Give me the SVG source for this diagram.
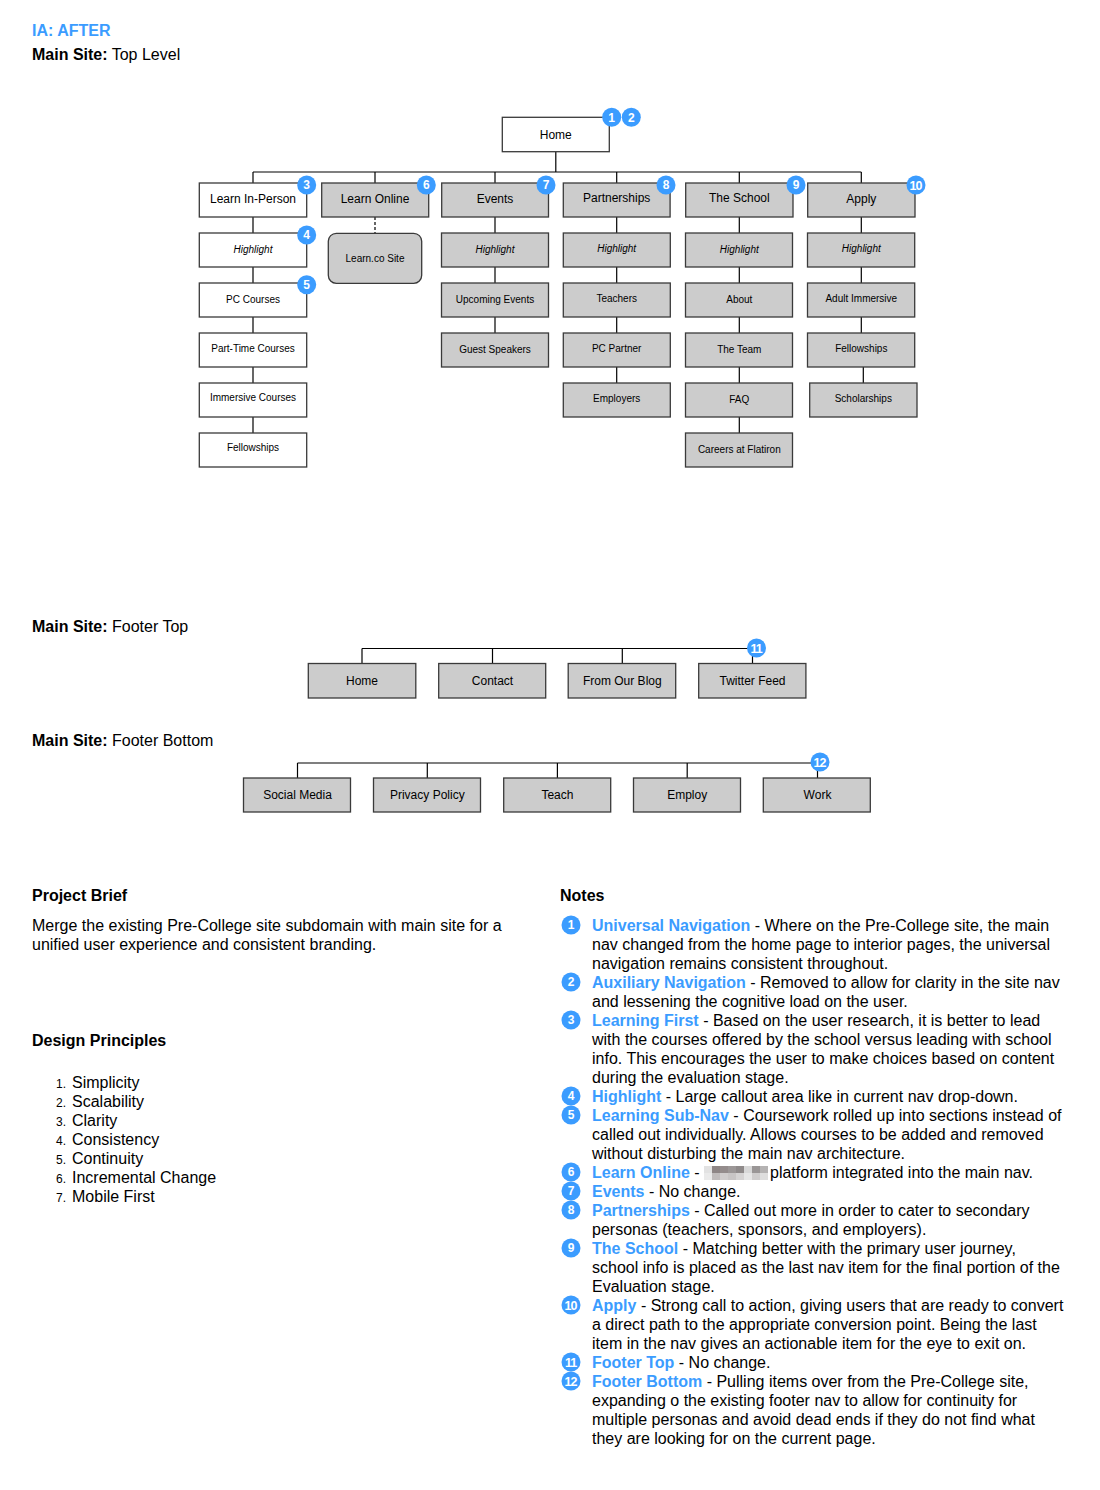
<svg xmlns="http://www.w3.org/2000/svg" width="1100" height="1490" viewBox="0 0 1100 1490">
<style>
text{font-family:"Liberation Sans",Arial,Helvetica,sans-serif;fill:#000}
.box{stroke:#3a3a3a;stroke-width:1.3}
.g{fill:#cccccc}
.w{fill:#ffffff}
.t1{font-size:12px;text-anchor:middle}
.t2{font-size:10px;text-anchor:middle}
.hi{font-size:10px;font-style:italic;text-anchor:middle}
.conn{stroke:#000;stroke-width:1.2;fill:none}
.dash{stroke-dasharray:3 2}
.badge{fill:#3b9cff}
.bt{fill:#fff;font-size:12px;font-weight:bold;text-anchor:middle}
.bt2{fill:#fff;font-size:12.5px;font-weight:bold;text-anchor:middle;letter-spacing:-1px}
.h{font-size:16px}
.b{font-weight:bold}
.blue{fill:#3b9cff;font-weight:bold}
.body{font-size:16px}
.num{font-size:12px}
</style>
<rect width="1100" height="1490" fill="#fff"/>

<!-- Headings -->
<text x="32" y="36" class="h blue">IA: AFTER</text>
<text x="32" y="60" class="h"><tspan class="b">Main Site:</tspan> Top Level</text>
<text x="32" y="632" class="h"><tspan class="b">Main Site:</tspan> Footer Top</text>
<text x="32" y="746" class="h"><tspan class="b">Main Site:</tspan> Footer Bottom</text>

<!-- Connectors -->
<g id="connectors" class="conn">
  <line x1="555.8" y1="151.7" x2="555.8" y2="172"/>
  <line x1="253" y1="172" x2="861.3" y2="172"/>
  <line x1="253" y1="172" x2="253" y2="183"/>
  <line x1="375" y1="172" x2="375" y2="183"/>
  <line x1="495" y1="172" x2="495" y2="183"/>
  <line x1="616.7" y1="172" x2="616.7" y2="183"/>
  <line x1="739.3" y1="172" x2="739.3" y2="183"/>
  <line x1="861.3" y1="172" x2="861.3" y2="183"/>
  <!-- Learn In-Person -->
  <line x1="253" y1="217" x2="253" y2="233"/>
  <line x1="253" y1="267" x2="253" y2="283"/>
  <line x1="253" y1="317" x2="253" y2="333"/>
  <line x1="253" y1="367" x2="253" y2="383"/>
  <line x1="253" y1="417" x2="253" y2="433"/>
  <!-- Learn Online -->
  <line class="dash" x1="375" y1="217" x2="375" y2="233"/>
  <!-- Events -->
  <line x1="495" y1="217" x2="495" y2="233"/>
  <line x1="495" y1="267" x2="495" y2="283"/>
  <line x1="495" y1="317" x2="495" y2="333"/>
  <!-- Partnerships -->
  <line x1="616.7" y1="217" x2="616.7" y2="233"/>
  <line x1="616.7" y1="267" x2="616.7" y2="283"/>
  <line x1="616.7" y1="317" x2="616.7" y2="333"/>
  <line x1="616.7" y1="367" x2="616.7" y2="383"/>
  <!-- The School -->
  <line x1="739.3" y1="217" x2="739.3" y2="233"/>
  <line x1="739.3" y1="267" x2="739.3" y2="283"/>
  <line x1="739.3" y1="317" x2="739.3" y2="333"/>
  <line x1="739.3" y1="367" x2="739.3" y2="383"/>
  <line x1="739.3" y1="417" x2="739.3" y2="433"/>
  <!-- Apply -->
  <line x1="861.3" y1="217" x2="861.3" y2="233"/>
  <line x1="861.3" y1="267" x2="861.3" y2="283"/>
  <line x1="861.3" y1="317" x2="861.3" y2="333"/>
  <line x1="863.3" y1="367" x2="863.3" y2="383"/>
  <!-- Footer top -->
  <line x1="362" y1="648.5" x2="752.5" y2="648.5"/>
  <line x1="362" y1="648.5" x2="362" y2="663.5"/>
  <line x1="492.5" y1="648.5" x2="492.5" y2="663.5"/>
  <line x1="622.3" y1="648.5" x2="622.3" y2="663.5"/>
  <line x1="752.5" y1="648.5" x2="752.5" y2="663.5"/>
  <!-- Footer bottom -->
  <line x1="297.5" y1="763" x2="817.5" y2="763"/>
  <line x1="297.5" y1="763" x2="297.5" y2="778"/>
  <line x1="427.3" y1="763" x2="427.3" y2="778"/>
  <line x1="557.4" y1="763" x2="557.4" y2="778"/>
  <line x1="687.2" y1="763" x2="687.2" y2="778"/>
  <line x1="817.5" y1="763" x2="817.5" y2="778"/>
</g>

<!-- Top level nodes -->
<g id="n-home"><rect class="box w" x="502.3" y="117.3" width="107" height="34.4"/><text class="t1" x="555.8" y="138.5">Home</text></g>

<g id="n-learn-in-person"><rect class="box w" x="199.3" y="183" width="107.4" height="34"/><text class="t1" x="253" y="203">Learn In-Person</text></g>
<g id="n-lip-highlight"><rect class="box w" x="199.3" y="233" width="107.4" height="34"/><text class="hi" x="253" y="253">Highlight</text></g>
<g id="n-pc-courses"><rect class="box w" x="199.3" y="283" width="107.4" height="34"/><text class="t2" x="253" y="302.5">PC Courses</text></g>
<g id="n-part-time"><rect class="box w" x="199.3" y="333" width="107.4" height="34"/><text class="t2" x="253" y="352">Part-Time Courses</text></g>
<g id="n-immersive"><rect class="box w" x="199.3" y="383" width="107.4" height="34"/><text class="t2" x="253" y="401">Immersive Courses</text></g>
<g id="n-lip-fellowships"><rect class="box w" x="199.3" y="433" width="107.4" height="34"/><text class="t2" x="253" y="451">Fellowships</text></g>

<g id="n-learn-online"><rect class="box g" x="321.7" y="183" width="107" height="34"/><text class="t1" x="375" y="203">Learn Online</text></g>
<g id="n-learnco"><rect class="box g" x="328.3" y="233.3" width="93.4" height="50" rx="8"/><text class="t2" x="375" y="262">Learn.co Site</text></g>

<g id="n-events"><rect class="box g" x="441.7" y="183" width="106.8" height="34"/><text class="t1" x="495" y="203">Events</text></g>
<g id="n-ev-highlight"><rect class="box g" x="441.5" y="233" width="107" height="34"/><text class="hi" x="495" y="253">Highlight</text></g>
<g id="n-upcoming"><rect class="box g" x="441.5" y="283" width="107" height="34"/><text class="t2" x="495" y="302.5">Upcoming Events</text></g>
<g id="n-guest"><rect class="box g" x="441.5" y="333" width="107" height="34"/><text class="t2" x="495" y="352.5">Guest Speakers</text></g>

<g id="n-partnerships"><rect class="box g" x="563.3" y="183" width="106.8" height="34"/><text class="t1" x="616.7" y="202">Partnerships</text></g>
<g id="n-pa-highlight"><rect class="box g" x="563.3" y="233" width="107" height="34"/><text class="hi" x="616.7" y="252">Highlight</text></g>
<g id="n-teachers"><rect class="box g" x="563.3" y="283" width="107" height="34"/><text class="t2" x="616.7" y="302">Teachers</text></g>
<g id="n-pc-partner"><rect class="box g" x="563.3" y="333" width="107" height="34"/><text class="t2" x="616.7" y="352">PC Partner</text></g>
<g id="n-employers"><rect class="box g" x="563.3" y="383" width="107" height="34"/><text class="t2" x="616.7" y="402">Employers</text></g>

<g id="n-school"><rect class="box g" x="685.7" y="183" width="107.3" height="34"/><text class="t1" x="739.3" y="202">The School</text></g>
<g id="n-sc-highlight"><rect class="box g" x="685.5" y="233" width="107" height="34"/><text class="hi" x="739.3" y="253">Highlight</text></g>
<g id="n-about"><rect class="box g" x="685.5" y="283" width="107" height="34"/><text class="t2" x="739.3" y="303">About</text></g>
<g id="n-team"><rect class="box g" x="685.5" y="333" width="107" height="34"/><text class="t2" x="739.3" y="353">The Team</text></g>
<g id="n-faq"><rect class="box g" x="685.5" y="383" width="107" height="34"/><text class="t2" x="739.3" y="403">FAQ</text></g>
<g id="n-careers"><rect class="box g" x="685.5" y="433" width="107" height="34"/><text class="t2" x="739.3" y="453">Careers at Flatiron</text></g>

<g id="n-apply"><rect class="box g" x="807.7" y="183" width="107.3" height="34"/><text class="t1" x="861.3" y="202.5">Apply</text></g>
<g id="n-ap-highlight"><rect class="box g" x="807.5" y="233" width="107.2" height="34"/><text class="hi" x="861.3" y="252">Highlight</text></g>
<g id="n-adult"><rect class="box g" x="807.5" y="283" width="107.2" height="34"/><text class="t2" x="861.3" y="302">Adult Immersive</text></g>
<g id="n-ap-fellowships"><rect class="box g" x="807.5" y="333" width="107.2" height="34"/><text class="t2" x="861.3" y="352">Fellowships</text></g>
<g id="n-scholarships"><rect class="box g" x="809.7" y="383" width="107.3" height="34"/><text class="t2" x="863.3" y="402">Scholarships</text></g>

<!-- Footer top nodes -->
<g id="n-ft-home"><rect class="box g" x="308.3" y="663.5" width="107.5" height="34.5"/><text class="t1" x="362" y="684.5">Home</text></g>
<g id="n-ft-contact"><rect class="box g" x="438.7" y="663.5" width="107" height="34.5"/><text class="t1" x="492.5" y="684.5">Contact</text></g>
<g id="n-ft-blog"><rect class="box g" x="568.2" y="663.5" width="107.5" height="34.5"/><text class="t1" x="622.3" y="684.5">From Our Blog</text></g>
<g id="n-ft-twitter"><rect class="box g" x="698.7" y="663.5" width="107.2" height="34.5"/><text class="t1" x="752.5" y="684.5">Twitter Feed</text></g>

<!-- Footer bottom nodes -->
<g id="n-fb-social"><rect class="box g" x="243.5" y="778" width="107" height="34"/><text class="t1" x="297.5" y="798.5">Social Media</text></g>
<g id="n-fb-privacy"><rect class="box g" x="373.5" y="778" width="107" height="34"/><text class="t1" x="427.3" y="798.5">Privacy Policy</text></g>
<g id="n-fb-teach"><rect class="box g" x="503.7" y="778" width="107" height="34"/><text class="t1" x="557.4" y="798.5">Teach</text></g>
<g id="n-fb-employ"><rect class="box g" x="633.5" y="778" width="107" height="34"/><text class="t1" x="687.2" y="798.5">Employ</text></g>
<g id="n-fb-work"><rect class="box g" x="763.3" y="778" width="107" height="34"/><text class="t1" x="817.5" y="798.5">Work</text></g>

<!-- Badges -->
<g id="badges">
  <circle class="badge" cx="611.7" cy="117.3" r="9.5"/><text class="bt" x="611.7" y="121.5">1</text>
  <circle class="badge" cx="631.3" cy="117.3" r="9.5"/><text class="bt" x="631.3" y="121.5">2</text>
  <circle class="badge" cx="306.7" cy="185" r="9.5"/><text class="bt" x="306.7" y="189.2">3</text>
  <circle class="badge" cx="306.7" cy="235" r="9.5"/><text class="bt" x="306.7" y="239.2">4</text>
  <circle class="badge" cx="306.7" cy="284.8" r="9.5"/><text class="bt" x="306.7" y="289">5</text>
  <circle class="badge" cx="426.3" cy="185" r="9.5"/><text class="bt" x="426.3" y="189.2">6</text>
  <circle class="badge" cx="546" cy="185" r="9.5"/><text class="bt" x="546" y="189.2">7</text>
  <circle class="badge" cx="666" cy="185" r="9.5"/><text class="bt" x="666" y="189.2">8</text>
  <circle class="badge" cx="796" cy="185" r="9.5"/><text class="bt" x="796" y="189.2">9</text>
  <circle class="badge" cx="916" cy="185" r="9.5"/><text class="bt2" x="915.5" y="189.5">10</text>
  <circle class="badge" cx="756.5" cy="648" r="9.5"/><text class="bt2" x="756" y="652.5">11</text>
  <circle class="badge" cx="820" cy="762" r="9.5"/><text class="bt2" x="819.5" y="766.5">12</text>
</g>

<!-- Project Brief -->
<text x="32" y="901" class="h b">Project Brief</text>
<text x="32" y="931" class="body">Merge the existing Pre-College site subdomain with main site for a</text>
<text x="32" y="950" class="body">unified user experience and consistent branding.</text>

<!-- Design Principles -->
<text x="32" y="1046" class="h b">Design Principles</text>
<g id="principles">
  <text x="56" y="1088" class="num">1.</text><text x="72" y="1088" class="body">Simplicity</text>
  <text x="56" y="1107" class="num">2.</text><text x="72" y="1107" class="body">Scalability</text>
  <text x="56" y="1126" class="num">3.</text><text x="72" y="1126" class="body">Clarity</text>
  <text x="56" y="1145" class="num">4.</text><text x="72" y="1145" class="body">Consistency</text>
  <text x="56" y="1164" class="num">5.</text><text x="72" y="1164" class="body">Continuity</text>
  <text x="56" y="1183" class="num">6.</text><text x="72" y="1183" class="body">Incremental Change</text>
  <text x="56" y="1202" class="num">7.</text><text x="72" y="1202" class="body">Mobile First</text>
</g>

<!-- Notes -->
<text x="560" y="901" class="h b">Notes</text>
<g id="notes-badges">
  <circle class="badge" cx="571" cy="925" r="9.5"/><text class="bt" x="571" y="929.2">1</text>
  <circle class="badge" cx="571" cy="982" r="9.5"/><text class="bt" x="571" y="986.2">2</text>
  <circle class="badge" cx="571" cy="1020" r="9.5"/><text class="bt" x="571" y="1024.2">3</text>
  <circle class="badge" cx="571" cy="1096" r="9.5"/><text class="bt" x="571" y="1100.2">4</text>
  <circle class="badge" cx="571" cy="1115" r="9.5"/><text class="bt" x="571" y="1119.2">5</text>
  <circle class="badge" cx="571" cy="1172" r="9.5"/><text class="bt" x="571" y="1176.2">6</text>
  <circle class="badge" cx="571" cy="1191" r="9.5"/><text class="bt" x="571" y="1195.2">7</text>
  <circle class="badge" cx="571" cy="1210" r="9.5"/><text class="bt" x="571" y="1214.2">8</text>
  <circle class="badge" cx="571" cy="1248" r="9.5"/><text class="bt" x="571" y="1252.2">9</text>
  <circle class="badge" cx="571" cy="1305" r="9.5"/><text class="bt2" x="570.5" y="1309.5">10</text>
  <circle class="badge" cx="571" cy="1362" r="9.5"/><text class="bt2" x="570.5" y="1366.5">11</text>
  <circle class="badge" cx="571" cy="1381" r="9.5"/><text class="bt2" x="570.5" y="1385.5">12</text>
</g>
<g id="notes-text" class="body">
  <text x="592" y="931" class="body"><tspan class="blue">Universal Navigation</tspan> - Where on the Pre-College site, the main</text>
  <text x="592" y="950" class="body">nav changed from the home page to interior pages, the universal</text>
  <text x="592" y="969" class="body">navigation remains consistent throughout.</text>
  <text x="592" y="988" class="body"><tspan class="blue">Auxiliary Navigation</tspan> - Removed to allow for clarity in the site nav</text>
  <text x="592" y="1007" class="body">and lessening the cognitive load on the user.</text>
  <text x="592" y="1026" class="body"><tspan class="blue">Learning First</tspan> - Based on the user research, it is better to lead</text>
  <text x="592" y="1045" class="body">with the courses offered by the school versus leading with school</text>
  <text x="592" y="1064" class="body">info. This encourages the user to make choices based on content</text>
  <text x="592" y="1083" class="body">during the evaluation stage.</text>
  <text x="592" y="1102" class="body"><tspan class="blue">Highlight</tspan> - Large callout area like in current nav drop-down.</text>
  <text x="592" y="1121" class="body"><tspan class="blue">Learning Sub-Nav</tspan> - Coursework rolled up into sections instead of</text>
  <text x="592" y="1140" class="body">called out individually. Allows courses to be added and removed</text>
  <text x="592" y="1159" class="body">without disturbing the main nav architecture.</text>
  <text x="592" y="1178" class="body"><tspan class="blue">Learn Online</tspan> -</text>
  <text x="770" y="1178" class="body">platform integrated into the main nav.</text>
  <text x="592" y="1197" class="body"><tspan class="blue">Events</tspan> - No change.</text>
  <text x="592" y="1216" class="body"><tspan class="blue">Partnerships</tspan> - Called out more in order to cater to secondary</text>
  <text x="592" y="1235" class="body">personas (teachers, sponsors, and employers).</text>
  <text x="592" y="1254" class="body"><tspan class="blue">The School</tspan> - Matching better with the primary user journey,</text>
  <text x="592" y="1273" class="body">school info is placed as the last nav item for the final portion of the</text>
  <text x="592" y="1292" class="body">Evaluation stage.</text>
  <text x="592" y="1311" class="body"><tspan class="blue">Apply</tspan> - Strong call to action, giving users that are ready to convert</text>
  <text x="592" y="1330" class="body">a direct path to the appropriate conversion point. Being the last</text>
  <text x="592" y="1349" class="body">item in the nav gives an actionable item for the eye to exit on.</text>
  <text x="592" y="1368" class="body"><tspan class="blue">Footer Top</tspan> - No change.</text>
  <text x="592" y="1387" class="body"><tspan class="blue">Footer Bottom</tspan> - Pulling items over from the Pre-College site,</text>
  <text x="592" y="1406" class="body">expanding o the existing footer nav to allow for continuity for</text>
  <text x="592" y="1425" class="body">multiple personas and avoid dead ends if they do not find what</text>
  <text x="592" y="1444" class="body">they are looking for on the current page.</text>
</g>

<!-- Redacted block -->
<g id="redacted">
  <rect x="704" y="1166" width="64" height="14" fill="#c9c7c7"/>
  <rect x="704" y="1166" width="8" height="7" fill="#e2e2e2"/>
  <rect x="712" y="1166" width="8" height="7" fill="#8e8686"/>
  <rect x="720" y="1166" width="8" height="7" fill="#948c8c"/>
  <rect x="728" y="1166" width="8" height="7" fill="#9c9797"/>
  <rect x="736" y="1166" width="8" height="7" fill="#8f8a8a"/>
  <rect x="744" y="1166" width="8" height="7" fill="#d8d8d8"/>
  <rect x="752" y="1166" width="8" height="7" fill="#9a9696"/>
  <rect x="760" y="1166" width="8" height="7" fill="#b5b3b3"/>
  <rect x="704" y="1173" width="8" height="7" fill="#eaeaea"/>
  <rect x="712" y="1173" width="8" height="7" fill="#c0bcbc"/>
  <rect x="720" y="1173" width="8" height="7" fill="#d0cdcd"/>
  <rect x="728" y="1173" width="8" height="7" fill="#c8c5c5"/>
  <rect x="736" y="1173" width="8" height="7" fill="#d5d3d3"/>
  <rect x="744" y="1173" width="8" height="7" fill="#e6e6e6"/>
  <rect x="752" y="1173" width="8" height="7" fill="#cfcdcd"/>
  <rect x="760" y="1173" width="8" height="7" fill="#dedede"/>
</g>
</svg>
